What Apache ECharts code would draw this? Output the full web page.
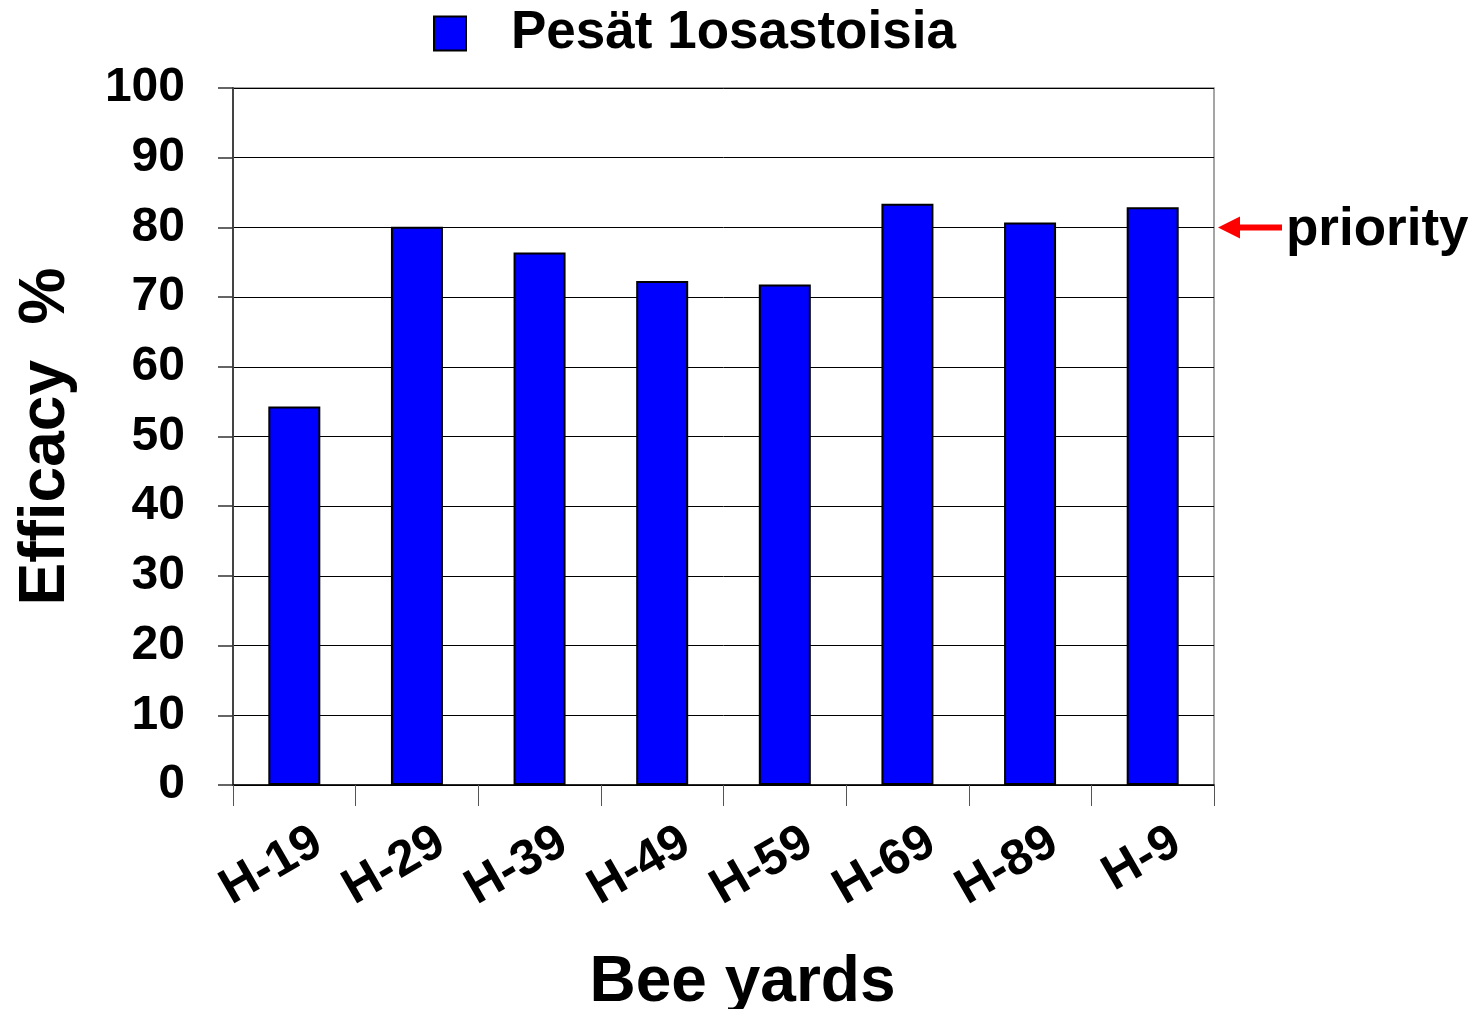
<!DOCTYPE html>
<html>
<head>
<meta charset="utf-8">
<script src="https://cdn.jsdelivr.net/npm/echarts@6/dist/echarts.min.js"></script>
<style>
html,body{margin:0;padding:0;background:#fff;}
#chart{width:1482px;height:1009px;}
</style>
</head>
<body>
<div id="chart"></div>
<script>
const categories = ['H-19','H-29','H-39','H-49','H-59','H-69','H-89','H-9'];
const efficacy = [54.3, 80.1, 76.4, 72.3, 71.8, 83.4, 80.7, 82.9];
const seriesName = 'Pesät 1osastoisia';
const priorityLevel = 80;
const priorityLabel = 'priority';

const FONT = '"Liberation Sans", Arial, sans-serif';
const chart = echarts.init(document.getElementById('chart'));
const option = {
  backgroundColor: '#fff',
  animation: false,
  textStyle: {fontFamily: FONT},
  legend: {
    data: [seriesName],
    top: 7, left: 433,
    padding: 0,
    icon: 'rect',
    itemWidth: 32, itemHeight: 34,
    itemGap: 10,
    textStyle: {fontFamily: FONT, fontSize: 53, fontWeight: 'bold', color: '#000', padding: [0,0,0,40]},
    itemStyle: {borderColor: '#000', borderWidth: 2}
  },
  grid: {left: 233, right: 268, top: 88, bottom: 224, show: true, borderColor: '#888', borderWidth: 1.5, containLabel: false, outerBoundsMode: 'none'},
  xAxis: {
    type: 'category',
    data: categories,
    boundaryGap: true,
    name: 'Bee yards',
    nameLocation: 'middle',
    nameGap: 166,
    nameTextStyle: {fontFamily: FONT, fontSize: 64, fontWeight: 'bold', color: '#000', padding: [0,0,0,38]},
    axisLine: {lineStyle: {color: '#000', width: 1.5}},
    axisTick: {show: true, length: 21, lineStyle: {color: '#555', width: 1}},
    axisLabel: {rotate: 30, fontFamily: FONT, fontSize: 50, fontWeight: 'bold', color: '#000', margin: 68, interval: 0, padding: [0, -28, 0, 0]}
  },
  yAxis: {
    type: 'value',
    min: 0, max: 100, interval: 10,
    name: 'Efficacy  %',
    nameLocation: 'middle',
    nameGap: 155,
    nameRotate: 90,
    nameTextStyle: {fontFamily: FONT, fontSize: 64, fontWeight: 'bold', color: '#000'},
    axisLine: {show: true, lineStyle: {color: '#444', width: 2}},
    axisTick: {show: true, length: 15, lineStyle: {color: '#333', width: 1.5}},
    axisLabel: {fontFamily: FONT, fontSize: 48, fontWeight: 'bold', color: '#000', margin: 48},
    splitLine: {show: true, lineStyle: {color: '#000', width: 1}}
  },
  series: [{
    name: seriesName,
    type: 'bar',
    data: efficacy,
    barWidth: 52,
    itemStyle: {color: '#0000ff', borderColor: '#000', borderWidth: 2}
  }]
};
chart.setOption(option);

// priority annotation positioned through the axis scales
const py = chart.convertToPixel({yAxisIndex: 0}, priorityLevel);
const step = chart.convertToPixel({xAxisIndex: 0}, categories[1]) - chart.convertToPixel({xAxisIndex: 0}, categories[0]);
const rightX = chart.convertToPixel({xAxisIndex: 0}, categories[categories.length - 1]) + step / 2;
chart.setOption({
  graphic: [
    {type: 'line', shape: {x1: rightX + 20, y1: py, x2: rightX + 68, y2: py}, style: {stroke: '#ff0000', lineWidth: 6}},
    {type: 'polygon', shape: {points: [[rightX + 4, py], [rightX + 26, py - 11], [rightX + 26, py + 11]]}, style: {fill: '#ff0000'}},
    {type: 'text', left: rightX + 72, top: py - 24, style: {text: priorityLabel, font: 'bold 53px ' + FONT, fill: '#000'}}
  ]
});
</script>
</body>
</html>
